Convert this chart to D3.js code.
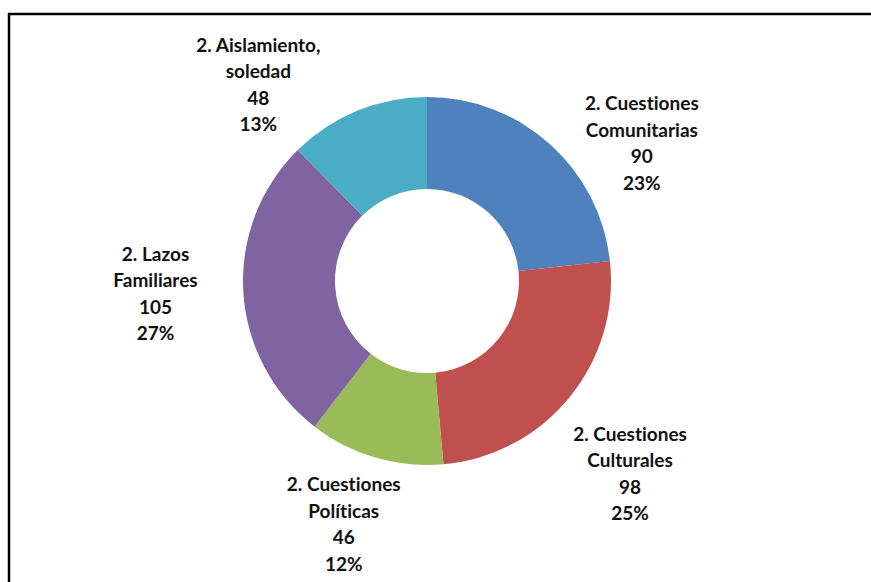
<!DOCTYPE html>
<meta charset="utf-8">
<style>
body { margin: 0; background: #fff; }
svg { display: block; }
.lbl { font-family: Lato, "Open Sans", sans-serif; font-weight: bold; font-size: 19px; fill: #111; font-variant-ligatures: none; }
</style>
<svg width="871" height="582"></svg>
<script src="https://d3js.org/d3.v7.min.js"></script>
<script>

// data, clockwise from 12 o'clock
var categories = ["2. Cuestiones Comunitarias", "2. Cuestiones Culturales", "2. Cuestiones Políticas", "2. Lazos Familiares", "2. Aislamiento, soledad"];
var values = [90, 98, 46, 105, 48];
// percentages as printed on the chart
var percents = ["23%", "25%", "12%", "27%", "13%"];
// label lines as they break in the picture
var labelLines = [
  ["2. Cuestiones", "Comunitarias"],
  ["2. Cuestiones", "Culturales"],
  ["2. Cuestiones", "Políticas"],
  ["2. Lazos", "Familiares"],
  ["2. Aislamiento,", "soledad"]
];
var colors = ["#4F81BD", "#C0504D", "#9BBB59", "#8064A2", "#4BACC6"];

var svg = d3.select("svg"),
    cx = 427, cy = 281,
    outerR = 184, innerR = 92;

// chart border (right and bottom run off the page)
svg.append("rect")
    .attr("x", 9).attr("y", 14)
    .attr("width", 900).attr("height", 600)
    .attr("fill", "none")
    .attr("stroke", "#000")
    .attr("stroke-width", 2.5);

var pie = d3.pie().sort(null).value(function(d) { return d; });
var arc = d3.arc().innerRadius(innerR).outerRadius(outerR);

var g = svg.append("g").attr("transform", "translate(" + cx + "," + cy + ")");

var arcs = pie(values);

g.selectAll("path")
  .data(arcs)
  .enter().append("path")
    .attr("d", arc)
    .attr("fill", function(d, i) { return colors[i]; });

// labels were dragged by hand in the original, so each gets its own nudge
var labelArc = d3.arc().innerRadius(265).outerRadius(265);
var nudge = [[38, 59], [-2, 24], [-9, -12], [-7, -4], [-68, 48]];

var lineH = 26.5;
arcs.forEach(function(d, i) {
  var c = labelArc.centroid(d);
  var x = c[0] + nudge[i][0], y = c[1] + nudge[i][1];
  var lines = labelLines[i].concat([String(values[i]), percents[i]]);
  var t = g.append("text")
      .attr("class", "lbl")
      .attr("text-anchor", "middle")
      .attr("x", x)
      .attr("y", y - (lines.length - 1) * lineH / 2);
  t.selectAll("tspan")
    .data(lines)
    .enter().append("tspan")
      .attr("x", x)
      .attr("dy", function(l, j) { return j ? lineH : 0; })
      .attr("dominant-baseline", "central")
      .text(function(l) { return l; });
});

</script>
